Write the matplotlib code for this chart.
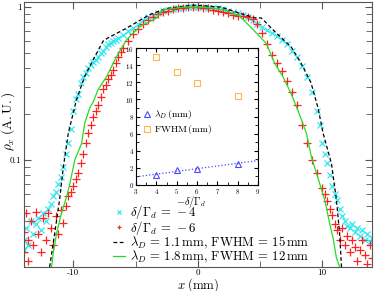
import numpy as np
import matplotlib
matplotlib.use("Agg")
import matplotlib.pyplot as plt
from matplotlib.ticker import FixedLocator, MultipleLocator, NullFormatter

plt.rcParams['font.family'] = 'serif'
plt.rcParams['font.serif'] = ['cmr10', 'DejaVu Serif']
plt.rcParams['mathtext.fontset'] = 'cm'
plt.rcParams['axes.unicode_minus'] = False
plt.rcParams['axes.formatter.use_mathtext'] = True

# measured profile, delta/Gamma_d = -4
x_m4 = [-14.0, -14.0, -13.8, -13.6, -13.4, -13.2, -13.0, -12.8, -12.6, -12.4, -12.2, -12.0,
        -11.8, -11.6, -11.4, -11.2, -11.0, -10.8, -10.6, -10.4, -10.2, -10.0, -9.8, -9.6,
        -9.4, -9.2, -9.0, -8.8, -8.6, -8.4, -8.2, -8.0, -7.8, -7.6, -7.4, -7.2, -7.0, -6.8,
        -6.6, -6.4, -6.0, -5.6, -5.2, -4.8, -4.4, -4.0, -3.6, -3.2, -2.8, -2.4, -2.0, -1.6,
        -1.2, -0.8, -0.4, 0.0, 0.4, 0.8, 1.2, 1.6, 2.0, 2.4, 2.8, 3.2, 3.6, 4.0, 4.4, 4.8,
        5.2, 5.6, 6.0, 6.4, 6.8, 7.2, 7.6, 8.0, 8.4, 8.8, 9.2, 9.6, 9.8, 10.0, 10.2, 10.4,
        10.6, 10.8, 11.0, 11.2, 11.4, 11.6, 11.8, 12.0, 12.2, 12.4, 12.6, 12.8, 13.0, 13.2,
        13.4, 13.6, 13.8, 14.0]
y_m4 = [0.030, 0.026, 0.036, 0.028, 0.040, 0.033, 0.038, 0.042, 0.035, 0.045, 0.040, 0.048,
        0.052, 0.058, 0.062, 0.070, 0.078, 0.090, 0.110, 0.130, 0.160, 0.210, 0.250, 0.270,
        0.320, 0.350, 0.370, 0.400, 0.420, 0.440, 0.450, 0.470, 0.500, 0.520, 0.550, 0.570,
        0.580, 0.600, 0.610, 0.630, 0.660, 0.700, 0.730, 0.780, 0.820, 0.860, 0.890, 0.920,
        0.940, 0.960, 0.970, 0.980, 0.990, 1.000, 1.000, 1.000, 1.000, 0.990, 0.990, 0.980,
        0.970, 0.950, 0.930, 0.910, 0.890, 0.860, 0.820, 0.780, 0.740, 0.710, 0.680, 0.650,
        0.610, 0.570, 0.520, 0.470, 0.410, 0.350, 0.280, 0.210, 0.170, 0.130, 0.110, 0.095,
        0.080, 0.068, 0.060, 0.055, 0.048, 0.043, 0.040, 0.037, 0.036, 0.038, 0.034, 0.036,
        0.032, 0.035, 0.030, 0.033, 0.029, 0.031]

# measured profile, delta/Gamma_d = -6
x_m6 = [-14.0, -14.0, -13.8, -13.6, -13.6, -13.4, -13.2, -13.0, -12.8, -12.6, -12.4, -12.2,
        -12.0, -11.8, -11.6, -11.4, -11.2, -11.0, -10.8, -10.6, -10.4, -10.2, -10.0, -9.8,
        -9.6, -9.4, -9.2, -9.0, -8.8, -8.6, -8.4, -8.2, -8.0, -7.8, -7.6, -7.4, -7.2, -7.0,
        -6.8, -6.6, -6.4, -6.2, -6.0, -5.6, -5.2, -4.8, -4.4, -4.0, -3.6, -3.2, -2.8, -2.4,
        -2.0, -1.6, -1.2, -0.8, -0.4, 0.0, 0.4, 0.8, 1.2, 1.6, 2.0, 2.4, 2.8, 3.2, 3.6, 4.0,
        4.4, 4.8, 5.2, 5.6, 6.0, 6.4, 6.8, 7.2, 7.6, 8.0, 8.4, 8.8, 9.2, 9.6, 10.0, 10.2,
        10.4, 10.6, 10.8, 11.0, 11.2, 11.4, 11.6, 11.8, 12.0, 12.2, 12.4, 12.6, 12.8, 13.0,
        13.2, 13.4, 13.6, 13.8, 14.0]
y_m6 = [0.034, 0.025, 0.045, 0.030, 0.022, 0.040, 0.028, 0.046, 0.033, 0.025, 0.042, 0.030,
        0.045, 0.036, 0.028, 0.043, 0.033, 0.047, 0.039, 0.050, 0.058, 0.062, 0.068, 0.075,
        0.082, 0.095, 0.110, 0.130, 0.150, 0.170, 0.190, 0.210, 0.230, 0.260, 0.290, 0.310,
        0.340, 0.360, 0.390, 0.430, 0.470, 0.510, 0.540, 0.600, 0.670, 0.720, 0.770, 0.820,
        0.860, 0.900, 0.930, 0.950, 0.970, 0.980, 0.990, 1.000, 1.000, 1.000, 0.990, 0.980,
        0.960, 0.950, 0.930, 0.910, 0.890, 0.880, 0.870, 0.860, 0.830, 0.770, 0.680, 0.570,
        0.490, 0.430, 0.380, 0.330, 0.280, 0.230, 0.170, 0.130, 0.100, 0.082, 0.066, 0.060,
        0.054, 0.048, 0.044, 0.038, 0.035, 0.030, 0.036, 0.028, 0.032, 0.025, 0.030, 0.027,
        0.022, 0.026, 0.030, 0.024, 0.021, 0.028, 0.023]

# simulated profile, lambda_D = 1.1 mm, FWHM = 15 mm
x_s1 = [-11.9, -11.5, -11.1, -10.8, -10.4, -9.75, -9.1, -8.3, -7.6, -7.2, -5.7, -3.9, -2.5,
        -0.4, 0.5, 1.9, 3.2, 3.8, 4.6, 5.1, 5.5, 6.2, 7.5, 8.3, 9.1, 9.66, 10.07, 10.74,
        11.14, 11.4, 11.55]
y_s1 = [0.020, 0.033, 0.055, 0.090, 0.150, 0.247, 0.350, 0.470, 0.600, 0.630, 0.730, 0.890,
        0.980, 1.030, 1.020, 1.000, 0.920, 0.890, 0.850, 0.850, 0.790, 0.690, 0.550, 0.430,
        0.320, 0.220, 0.150, 0.095, 0.055, 0.033, 0.020]

# simulated profile, lambda_D = 1.8 mm, FWHM = 12 mm
x_s2 = [-11.75, -11.6, -11.35, -10.95, -10.55, -10.28, -9.88, -9.34, -9.08, -8.67, -8.4, -8.0,
        -7.33, -6.53, -5.73, -4.66, -3.86, -3.3, -2.8, -1.2, 0.0, 1.0, 2.17, 3.0, 3.2, 4.04,
        4.84, 5.5, 6.18, 6.85, 7.52, 8.06, 8.73, 9.13, 9.8, 10.2, 10.6, 10.87, 11.14, 11.4]
y_s2 = [0.020, 0.025, 0.033, 0.045, 0.057, 0.070, 0.100, 0.128, 0.174, 0.220, 0.240, 0.290,
        0.350, 0.475, 0.610, 0.746, 0.805, 0.850, 0.960, 1.000, 1.000, 0.990, 0.960, 0.890,
        0.900, 0.770, 0.660, 0.580, 0.430, 0.350, 0.270, 0.210, 0.150, 0.105, 0.070, 0.055,
        0.0385, 0.031, 0.023, 0.020]

# inset: fitted parameters vs detuning
detuning = [4, 5, 6, 8]
lambda_D = [1.15, 1.75, 1.9, 2.5]
fwhm = [15.0, 13.2, 11.9, 10.4]

fig = plt.figure(figsize=(3.74, 2.91), dpi=100)
ax = fig.add_axes([23.5/374, 1-267/291, 348.5/374, 265/291])

ax.plot(x_m4, y_m4, 'x', color='#33e6f0', ms=4.5, mew=0.9, label=r'$\delta/\Gamma_d\,=\,-4$')
ax.plot(x_m6, y_m6, '+', color='#ff2020', ms=5.5, mew=0.9, label=r'$\delta/\Gamma_d\,=\,-6$')
ax.plot(x_s1, y_s1, '--', color='black', lw=0.9, dashes=(3, 2),
        label=r'$\lambda_D\,=\,1.1\,\mathrm{mm},\,\mathrm{FWHM}\,=\,15\,\mathrm{mm}$')
ax.plot(x_s2, y_s2, '-', color='#22dd22', lw=0.9,
        label=r'$\lambda_D\,=\,1.8\,\mathrm{mm},\,\mathrm{FWHM}\,=\,12\,\mathrm{mm}$')

ax.set_yscale('log')
ax.set_xlim(-14, 14)
ax.set_ylim(0.02, 1.08)
ax.yaxis.set_major_locator(FixedLocator([0.1, 1]))
ax.set_yticklabels(['0.1', '1'])
ax.yaxis.set_minor_locator(FixedLocator([0.02, 0.03, 0.04, 0.05, 0.06, 0.07, 0.08, 0.09,
                                         0.2, 0.3, 0.4, 0.5, 0.6, 0.7, 0.8, 0.9]))
ax.yaxis.set_minor_formatter(NullFormatter())
ax.xaxis.set_major_locator(FixedLocator([-10, 0, 10]))
ax.set_xticklabels(['-10', '0', '10'])
ax.xaxis.set_minor_locator(MultipleLocator(5))
ax.tick_params(which='both', direction='in', top=True, right=True, labelsize=6.5,
               color='#555555', pad=1.5)
ax.tick_params(which='major', length=5)
ax.tick_params(which='minor', length=4)
for s in ax.spines.values():
    s.set_color('#555555')
ax.set_xlabel(r'$x\;(\mathrm{mm})$', fontsize=9.2)
ax.set_ylabel(r'$\rho_x\;(\mathrm{A.U.})$', fontsize=9.5)
ax.xaxis.set_label_coords(0.5, -0.033)
ax.yaxis.set_label_coords(-0.02, 0.55)

ax.legend(loc='lower left', bbox_to_anchor=(0.23, -0.025), frameon=False, fontsize=9.2,
          handlelength=1.0, handletextpad=0.35, labelspacing=-0.18, borderpad=0.2,
          markerscale=0.6)

ins = fig.add_axes([136/374, 1-185/291, 122/374, 137/291])
ins.plot(detuning, lambda_D, '^', mfc='none', mec='#4a4aff', ms=4.5, mew=0.8, label=r'$\lambda_D\,(\mathrm{mm})$')
ins.plot(detuning, fwhm, 's', mfc='none', mec='#ffb650', ms=4.5, mew=0.8, label=r'$\mathrm{FWHM}\,(\mathrm{mm})$')
coef = np.polyfit(detuning, lambda_D, 1)
xf = np.array([3, 9])
ins.plot(xf, np.polyval(coef, xf), ':', color='#4a4aff', lw=0.9)
ins.set_xlim(3, 9)
ins.set_ylim(0, 16)
ins.xaxis.set_major_locator(MultipleLocator(1))
ins.xaxis.set_minor_locator(MultipleLocator(0.5))
ins.yaxis.set_major_locator(MultipleLocator(2))
ins.yaxis.set_minor_locator(MultipleLocator(1))
ins.tick_params(which='both', direction='in', top=True, right=True, labelsize=5, pad=1.5)
ins.tick_params(which='major', length=3)
ins.tick_params(which='minor', length=2)
ins.set_xlabel(r'$-\delta/\Gamma_d$', fontsize=7.5)
ins.xaxis.set_label_coords(0.45, -0.065)
ins.legend(loc='center left', bbox_to_anchor=(0.0, 0.46), frameon=False, fontsize=7,
           handlelength=0.8, handletextpad=0.3, labelspacing=0.2, borderpad=0.2)

fig.savefig('out.png', dpi=100)
